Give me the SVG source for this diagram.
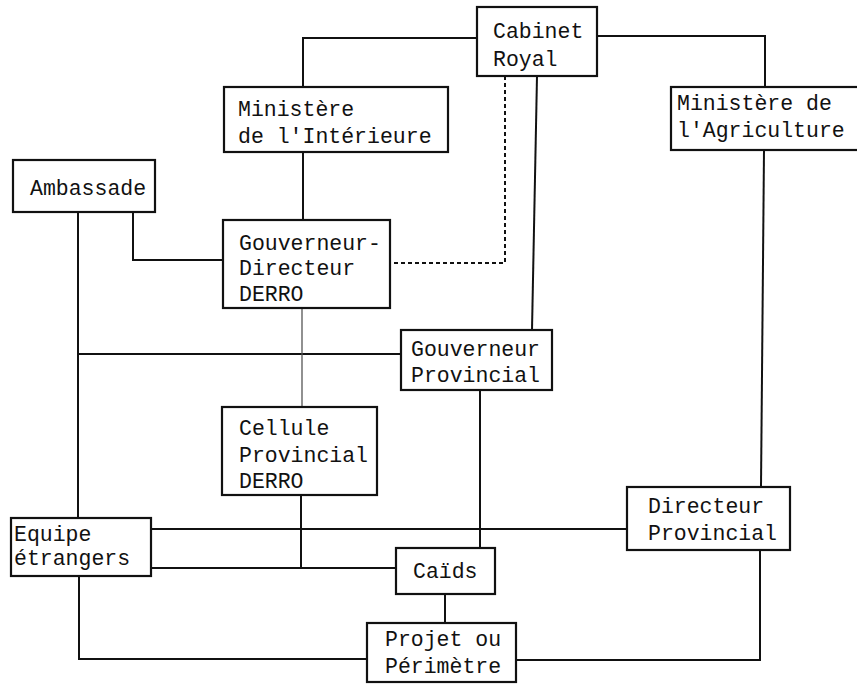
<svg xmlns="http://www.w3.org/2000/svg" width="857" height="684" viewBox="0 0 857 684">
<style>
.box{fill:#fff;stroke:#111;stroke-width:2.2}
.t{font-family:"Liberation Mono","Courier New",monospace;font-size:21.5px;fill:#111}
.ln{fill:none;stroke:#111;stroke-width:2}
.thin{fill:none;stroke:#555;stroke-width:1.3}
.dash{fill:none;stroke:#111;stroke-width:2;stroke-dasharray:4 3}
</style>
<rect width="857" height="684" fill="#fff"/>
<g id="connectors">
<polyline class="ln" points="477,38 303,38 303,87"/>
<polyline class="ln" points="597,36 765,36 765,87"/>
<polyline class="dash" points="505,76 505,263 390,263"/>
<line class="ln" x1="537" y1="76" x2="532" y2="330"/>
<line class="ln" x1="303" y1="152" x2="303" y2="220"/>
<polyline class="ln" points="133,212 133,260 223,260"/>
<line class="ln" x1="78" y1="212" x2="78" y2="518"/>
<line class="ln" x1="78" y1="354" x2="401" y2="354"/>
<line class="thin" x1="302" y1="308" x2="302" y2="407"/>
<line class="ln" x1="764" y1="150" x2="761" y2="487"/>
<line class="ln" x1="480" y1="390" x2="480" y2="548"/>
<line class="ln" x1="151" y1="529" x2="627" y2="529"/>
<line class="ln" x1="151" y1="568" x2="396" y2="568"/>
<line class="ln" x1="301" y1="495" x2="301" y2="568"/>
<line class="ln" x1="445" y1="594" x2="445" y2="623"/>
<polyline class="ln" points="79,576 79,659 367,659"/>
<polyline class="ln" points="760,550 760,660 516,660"/>
</g>
<g id="cabinet">
<rect class="box" x="477" y="7" width="120" height="69"/>
<text class="t" x="493" y="38">Cabinet</text>
<text class="t" x="493" y="66">Royal</text>
</g>
<g id="min-interieur">
<rect class="box" x="224" y="87" width="224" height="65"/>
<text class="t" x="238" y="116">Ministère</text>
<text class="t" x="238" y="143">de l'Intérieure</text>
</g>
<g id="min-agriculture">
<rect class="box" x="671" y="87" width="200" height="63"/>
<text class="t" x="677" y="110">Ministère de</text>
<text class="t" x="677" y="137">l'Agriculture</text>
</g>
<g id="ambassade">
<rect class="box" x="13" y="160" width="142" height="52"/>
<text class="t" x="30" y="195">Ambassade</text>
</g>
<g id="gouverneur-directeur">
<rect class="box" x="223" y="220" width="167" height="88"/>
<text class="t" x="239" y="250">Gouverneur-</text>
<text class="t" x="239" y="275">Directeur</text>
<text class="t" x="239" y="301">DERRO</text>
</g>
<g id="gouverneur-provincial">
<rect class="box" x="401" y="330" width="151" height="60"/>
<text class="t" x="411" y="356">Gouverneur</text>
<text class="t" x="411" y="382">Provincial</text>
</g>
<g id="cellule">
<rect class="box" x="222" y="407" width="155" height="88"/>
<text class="t" x="239" y="435">Cellule</text>
<text class="t" x="239" y="462">Provincial</text>
<text class="t" x="239" y="488">DERRO</text>
</g>
<g id="equipe">
<rect class="box" x="11" y="518" width="140" height="58"/>
<text class="t" x="14" y="541">Equipe</text>
<text class="t" x="14" y="565">étrangers</text>
</g>
<g id="directeur-provincial">
<rect class="box" x="627" y="487" width="163" height="63"/>
<text class="t" x="648" y="513">Directeur</text>
<text class="t" x="648" y="540">Provincial</text>
</g>
<g id="caids">
<rect class="box" x="396" y="548" width="99" height="46"/>
<text class="t" x="413" y="578">Caïds</text>
</g>
<g id="projet">
<rect class="box" x="367" y="623" width="149" height="59"/>
<text class="t" x="385" y="646">Projet ou</text>
<text class="t" x="385" y="673">Périmètre</text>
</g>
</svg>
